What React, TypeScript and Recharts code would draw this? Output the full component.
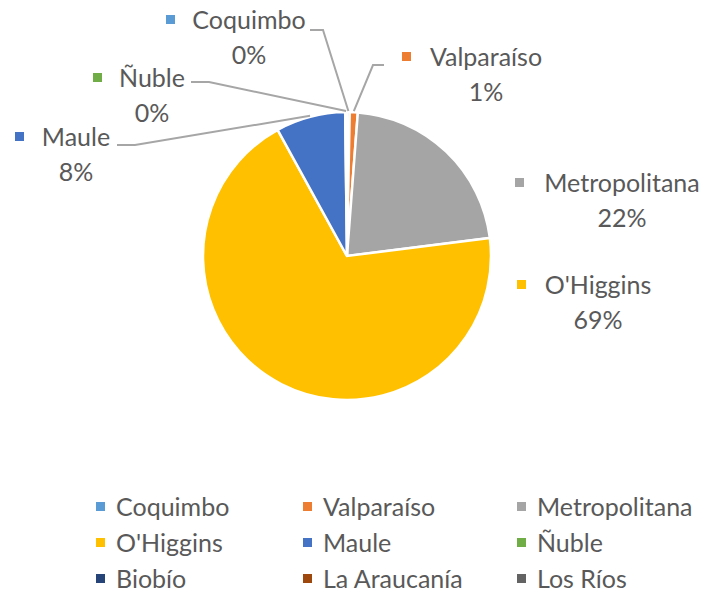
import { PieChart, Pie, Cell, Legend } from 'recharts'

const regions = ['Coquimbo', 'Valparaíso', 'Metropolitana', "O'Higgins", 'Maule', 'Ñuble', 'Biobío', 'La Araucanía', 'Los Ríos']
const shares = [0.3, 0.9, 21.8, 69.0, 7.8, 0.2, 0, 0, 0]
const colors = ['#5B9BD5', '#ED7D31', '#A5A5A5', '#FFC000', '#4472C4', '#70AD47', '#264478', '#9E480E', '#636363']

const data = regions.map((name, i) => ({ name, value: shares[i] }))

const TEXT = '#595959'
const FONT = 'Lato, "Noto Sans", sans-serif'
const FS = 25
const RAD = Math.PI / 180

// where Excel dropped each data label (sx = marker, cx = text centre, y = name baseline)
// stub = horizontal bit of the leader line, if any
type Spot = { sx: number; cx: number; y: number; stub?: [number, number, number] }
const labelSpots: Record<string, Spot> = {
  Coquimbo: { sx: 170, cx: 249, y: 29, stub: [310, 323, 30] },
  'Valparaíso': { sx: 406, cx: 486, y: 66, stub: [384, 373, 65] },
  Metropolitana: { sx: 519, cx: 622, y: 192 },
  "O'Higgins": { sx: 521, cx: 598, y: 294 },
  Maule: { sx: 19, cx: 76, y: 146, stub: [117, 135, 145] },
  'Ñuble': { sx: 97, cx: 152, y: 87, stub: [191, 209, 82] },
}

const renderLabel = (props: any) => {
  const { cx, cy, midAngle, outerRadius, name, value, percent, fill } = props
  const spot = labelSpots[name]
  if (!spot || !value) return <g />
  const r = outerRadius + 1
  const ex = cx + r * Math.cos(-midAngle * RAD)
  const ey = cy + r * Math.sin(-midAngle * RAD)

  return (
    <g>
      {spot.stub && (
        <polyline
          points={`${spot.stub[0]},${spot.stub[2]} ${spot.stub[1]},${spot.stub[2]} ${ex},${ey}`}
          fill="none"
          stroke="#A6A6A6"
          strokeWidth={2}
        />
      )}
      <rect x={spot.sx - 4} y={spot.y - 14} width={9} height={9} fill={fill} />
      <text x={spot.cx} y={spot.y} textAnchor="middle" fill={TEXT} fontSize={FS} fontFamily={FONT}>
        {name}
      </text>
      <text x={spot.cx} y={spot.y + 35} textAnchor="middle" fill={TEXT} fontSize={FS} fontFamily={FONT}>
        {`${Math.round(percent * 100)}%`}
      </text>
    </g>
  )
}

const LegendGrid = ({ payload = [] }: any) => (
  <div
    style={{
      display: 'grid',
      gridTemplateColumns: '207px 214px 200px',
      rowGap: 0,
      fontFamily: FONT,
      fontSize: FS,
      color: TEXT,
      lineHeight: '36px',
    }}
  >
    {payload.map((p: any) => (
      <div key={p.value} style={{ display: 'flex', alignItems: 'center', whiteSpace: 'nowrap' }}>
        <span style={{ width: 9, height: 9, background: p.color, marginRight: 11, flex: 'none' }} />
        {p.value}
      </div>
    ))}
  </div>
)

export default function App() {
  return (
    <div style={{ position: 'absolute', left: 0, top: 0, width: 705, height: 592, background: '#fff' }}>
      <PieChart width={705} height={592} margin={{ top: 0, right: 0, bottom: 0, left: 0 }}>
        <Pie
          data={data}
          dataKey="value"
          nameKey="name"
          cx={347}
          cy={256}
          outerRadius={144}
          startAngle={90}
          endAngle={-270}
          stroke="#fff"
          strokeWidth={2.5}
          label={renderLabel}
          labelLine={false}
          isAnimationActive={false}
        >
          {data.map((d, i) => (
            <Cell key={d.name} fill={colors[i]} />
          ))}
        </Pie>
        <Legend
          content={<LegendGrid />}
          itemSorter={(item: any) => regions.indexOf(item.value)}
          wrapperStyle={{ left: 96, top: 488, width: 620 }}
        />
      </PieChart>
    </div>
  )
}
